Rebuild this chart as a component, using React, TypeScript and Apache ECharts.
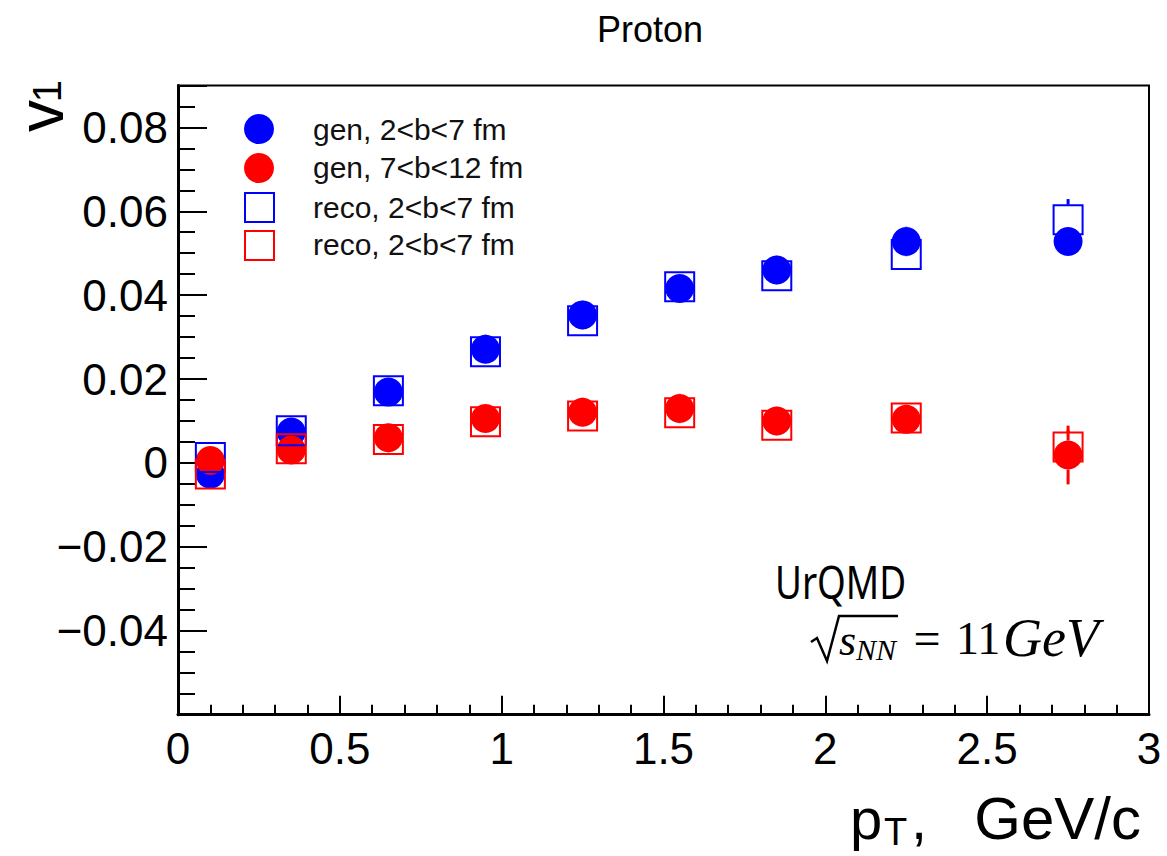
import React, { useEffect, useRef } from "react";
import * as echarts from "echarts";

// ---- data ----
const ptBins = [0.1, 0.35, 0.65, 0.95, 1.25, 1.55, 1.85, 2.25, 2.75];
const genCentral = [-0.0027, 0.0074, 0.0169, 0.0271, 0.0353, 0.0416, 0.046, 0.0528, 0.0528];
const genCentralErr = [0.0034, 0.0034, 0.0034, 0.0035, 0.0035, 0.0034, 0.0035, 0.0035, 0.0034];
const genPeripheral = [0.0006, 0.0031, 0.006, 0.0106, 0.0121, 0.013, 0.01, 0.0104, 0.0019];
const genPeripheralErr = [0.0034, 0.0034, 0.0035, 0.0034, 0.0035, 0.0035, 0.0035, 0.0034, 0.007];
const recoCentral = [0.0013, 0.0077, 0.0172, 0.0265, 0.0339, 0.042, 0.0446, 0.0497, 0.058];
const recoCentralErr = [0.003, 0.003, 0.003, 0.003, 0.003, 0.003, 0.003, 0.0032, 0.0049];
const recoPeripheral = [-0.0026, 0.0034, 0.0056, 0.0098, 0.0112, 0.012, 0.009, 0.0107, 0.0038];
const recoPeripheralErr = [0.003, 0.003, 0.003, 0.003, 0.003, 0.003, 0.003, 0.003, 0.004];

const legendLabels = ["gen, 2<b<7 fm", "gen, 7<b<12 fm", "reco, 2<b<7 fm", "reco, 2<b<7 fm"];
const titleText = "Proton";

const BLUE = "#0000ff";
const RED = "#ff0000";
const FONT = "Liberation Sans, Arial, Helvetica, sans-serif";
const SERIF = "Liberation Serif, DejaVu Serif, serif";

function pts(ys: number[]) {
  return ptBins.map((x, i) => [x, ys[i]]);
}
function errPts(ys: number[], es: number[]) {
  return ptBins.map((x, i) => [x, ys[i], es[i]]);
}

function errorSeries(ys: number[], es: number[], color: string, half: number) {
  return {
    type: "custom",
    xAxisIndex: 0,
    yAxisIndex: 0,
    z: 1,
    silent: true,
    data: errPts(ys, es),
    encode: { x: 0, y: 1 },
    renderItem: (params: any, api: any) => {
      const x = api.value(0);
      const y = api.value(1);
      const e = api.value(2);
      const c = api.coord([x, y]);
      const t = api.coord([x, y + e]);
      const b = api.coord([x, y - e]);
      const children: any[] = [];
      if (c[1] - t[1] > half) {
        children.push({
          type: "line",
          shape: { x1: c[0], y1: c[1] - half, x2: c[0], y2: t[1] },
          style: { stroke: color, lineWidth: 3 },
        });
      }
      if (b[1] - c[1] > half) {
        children.push({
          type: "line",
          shape: { x1: c[0], y1: c[1] + half, x2: c[0], y2: b[1] },
          style: { stroke: color, lineWidth: 3 },
        });
      }
      return { type: "group", children };
    },
  };
}

function yFmt(v: number) {
  if (Math.abs(v - 0.09) < 1e-9 || Math.abs(v + 0.06) < 1e-9) return "";
  if (Math.abs(v) < 1e-12) return "0";
  return (v < 0 ? "\u2212" : "") + Math.abs(v).toFixed(2);
}
function xFmt(v: number) {
  return String(Math.round(v * 10) / 10);
}

export default function App() {
  const ref = useRef<HTMLDivElement>(null);
  useEffect(() => {
    if (!ref.current) return;
    const chart = echarts.init(ref.current, undefined, { renderer: "svg" });
    const gridTop = 85.4;
    const gridH = 629.3;
    const txt = (x: number, y: number, text: string, size: number, extra: any = {}) => ({
      type: "text",
      x,
      y,
      ...extra.el,
      style: {
        text,
        fontSize: size,
        fontFamily: FONT,
        fill: "#000",
        align: "left",
        verticalAlign: "middle",
        ...extra.style,
      },
    });
    const option: any = {
      animation: false,
      backgroundColor: "#ffffff",
      title: {
        text: titleText,
        left: 645,
        top: 6,
        textAlign: "center",
        textStyle: { fontFamily: FONT, fontSize: 36, fontWeight: "normal", color: "#000" },
      },
      grid: {
        left: 178,
        top: gridTop,
        width: 971,
        height: gridH,
        show: true,
        borderColor: "#000",
        borderWidth: 2,
        backgroundColor: "transparent",
      },
      xAxis: [
        {
          type: "value",
          min: 0,
          max: 3,
          interval: 0.5,
          position: "bottom",
          axisLine: { show: true, onZero: false, lineStyle: { color: "#000", width: 3 } },
          axisTick: { show: true, inside: true, length: 19, lineStyle: { color: "#000", width: 2 } },
          axisLabel: { fontSize: 44, fontFamily: FONT, color: "#000", margin: 12, formatter: xFmt },
          splitLine: { show: false },
        },
        {
          type: "value",
          min: 0,
          max: 3,
          interval: 0.1,
          position: "bottom",
          axisLine: { show: false, onZero: false },
          axisTick: { show: true, inside: true, length: 10, lineStyle: { color: "#000", width: 2 } },
          axisLabel: { show: false },
          splitLine: { show: false },
        },
      ],
      yAxis: [
        {
          type: "value",
          min: -0.06,
          max: 0.09,
          interval: 0.02,
          position: "left",
          axisLine: { show: true, onZero: false, lineStyle: { color: "#000", width: 3 } },
          axisTick: { show: true, inside: true, length: 29, lineStyle: { color: "#000", width: 2 } },
          axisLabel: { fontSize: 44, fontFamily: FONT, color: "#000", margin: 10, formatter: yFmt },
          splitLine: { show: false },
        },
        {
          type: "value",
          min: -0.06,
          max: 0.09,
          interval: 0.005,
          position: "left",
          axisLine: { show: false, onZero: false },
          axisTick: { show: true, inside: true, length: 17, lineStyle: { color: "#000", width: 2 } },
          axisLabel: { show: false },
          splitLine: { show: false },
        },
      ],
      series: [
        errorSeries(genCentral, genCentralErr, BLUE, 14.5),
        errorSeries(genPeripheral, genPeripheralErr, RED, 14.5),
        errorSeries(recoCentral, recoCentralErr, BLUE, 15),
        errorSeries(recoPeripheral, recoPeripheralErr, RED, 15),
        {
          type: "scatter",
          name: legendLabels[0],
          data: pts(genCentral),
          symbol: "circle",
          symbolSize: 29,
          itemStyle: { color: BLUE, opacity: 1 },
          z: 2,
        },
        {
          type: "scatter",
          name: legendLabels[1],
          data: pts(genPeripheral),
          symbol: "circle",
          symbolSize: 29,
          itemStyle: { color: RED, opacity: 1 },
          z: 2,
        },
        {
          type: "scatter",
          name: legendLabels[2],
          data: pts(recoCentral),
          symbol: "rect",
          symbolSize: 29,
          itemStyle: { color: "rgba(0,0,0,0)", borderColor: BLUE, borderWidth: 2, opacity: 1 },
          z: 3,
        },
        {
          type: "scatter",
          name: legendLabels[3],
          data: pts(recoPeripheral),
          symbol: "rect",
          symbolSize: 29,
          itemStyle: { color: "rgba(0,0,0,0)", borderColor: RED, borderWidth: 2, opacity: 1 },
          z: 3,
        },
      ],
      graphic: [
        // legend
        { type: "circle", shape: { cx: 259, cy: 129, r: 15 }, style: { fill: BLUE } },
        { type: "circle", shape: { cx: 259, cy: 168, r: 15 }, style: { fill: RED } },
        { type: "rect", shape: { x: 245, y: 193, width: 29, height: 29 }, style: { fill: "none", stroke: BLUE, lineWidth: 2 } },
        { type: "rect", shape: { x: 245, y: 231, width: 29, height: 29 }, style: { fill: "none", stroke: RED, lineWidth: 2 } },
        txt(313, 129, legendLabels[0], 30, { style: { fill: "#111" } }),
        txt(313, 167, legendLabels[1], 30, { style: { fill: "#111" } }),
        txt(313, 207, legendLabels[2], 30, { style: { fill: "#111" } }),
        txt(313, 244, legendLabels[3], 30, { style: { fill: "#111" } }),
        // y axis title v_1
        txt(41, 116, "v", 64, { el: { rotation: Math.PI / 2 }, style: { align: "center" } }),
        txt(47, 91, "1", 40, { el: { rotation: Math.PI / 2 }, style: { align: "center" } }),
        // x axis title p_T, GeV/c
        txt(850, 818, "p", 58),
        txt(884, 832, "T", 38),
        txt(911, 818, ",", 58),
        txt(1141, 818, "GeV/c", 60, { style: { align: "right" } }),
        // annotation
        txt(775, 581, "UrQMD", 46, { el: { scaleX: 0.8 }, style: { fontFamily: "Noto Sans, sans-serif" } }),
        {
          type: "polyline",
          shape: { points: [[811, 642], [817, 638], [827, 661], [839, 616], [898, 616]] },
          style: { stroke: "#000", lineWidth: 2.5, fill: "none" },
        },
        txt(839, 640, "s", 44, { style: { fontFamily: SERIF, fontStyle: "italic" } }),
        txt(856, 649, "NN", 30, { style: { fontFamily: SERIF, fontStyle: "italic" } }),
        txt(927, 638, "=", 48, { style: { fontFamily: SERIF, align: "center" } }),
        txt(956, 638, "11", 46, { style: { fontFamily: SERIF } }),
        txt(1003, 638, "GeV", 54, { style: { fontFamily: SERIF, fontStyle: "italic" } }),
      ],
    };
    chart.setOption(option);
    return () => chart.dispose();
  }, []);
  return (
    <div
      ref={ref}
      style={{ position: "fixed", left: 0, top: 0, width: 1167, height: 856, background: "#fff" }}
    />
  );
}
